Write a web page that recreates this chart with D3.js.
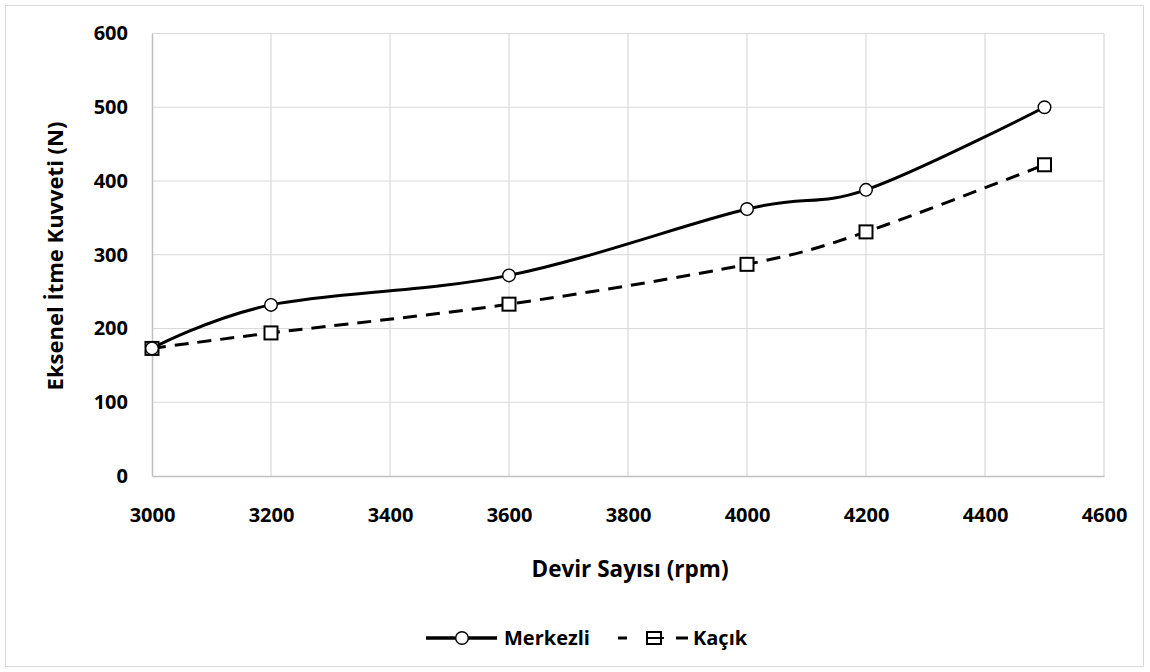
<!DOCTYPE html>
<html>
<head>
<meta charset="utf-8">
<script src="https://cdn.jsdelivr.net/npm/d3@7"></script>
<style>
  body { margin: 0; background: #fff; }
  svg { display: block; }
</style>
</head>
<body>
<svg id="chart" width="1150" height="672"></svg>
<script>
// chart data
var rpm = [3000, 3200, 3600, 4000, 4200, 4500];
var merkezli = [173, 232, 272, 362, 388, 500];
var kacik = [173, 194, 233, 287, 331, 422];
var xTicks = [3000, 3200, 3400, 3600, 3800, 4000, 4200, 4400, 4600];
var yTicks = [0, 100, 200, 300, 400, 500, 600];

var font = "'Open Sans', 'DejaVu Sans', sans-serif";
var svg = d3.select('#chart');

var pLeft = 152, pRight = 1104, pTop = 33.5, pBottom = 476;

// outer border
svg.append('rect')
   .attr('x', 5.5).attr('y', 5.5)
   .attr('width', 1138).attr('height', 661)
   .attr('fill', '#fff')
   .attr('stroke', '#d9d9d9')
   .attr('stroke-width', 1);

var xscale = d3.scaleLinear().domain([3000, 4600]).range([pLeft, pRight]);
var yscale = d3.scaleLinear().domain([0, 600]).range([pBottom, pTop]);

// gridlines
svg.append('g').selectAll('line')
   .data(xTicks.slice(1))
   .enter().append('line')
   .attr('x1', d => xscale(d)).attr('x2', d => xscale(d))
   .attr('y1', pTop).attr('y2', pBottom)
   .attr('stroke', '#d9d9d9').attr('stroke-width', 1.2);

svg.append('g').selectAll('line')
   .data(yTicks.slice(1))
   .enter().append('line')
   .attr('x1', pLeft).attr('x2', pRight)
   .attr('y1', d => yscale(d)).attr('y2', d => yscale(d))
   .attr('stroke', '#d9d9d9').attr('stroke-width', 1.2);

// axes
var xAxis = d3.axisBottom(xscale).tickValues(xTicks).tickFormat(d3.format('d'))
   .tickSize(0).tickPadding(32);
var gx = svg.append('g')
   .attr('transform', 'translate(0,' + pBottom + ')')
   .call(xAxis);
gx.select('.domain').attr('stroke', '#bfbfbf').attr('stroke-width', 1.5);

var yAxis = d3.axisLeft(yscale).tickValues(yTicks).tickFormat(d3.format('d'))
   .tickSize(0).tickPadding(24);
var gy = svg.append('g')
   .attr('transform', 'translate(' + pLeft + ',0)')
   .call(yAxis);
gy.select('.domain').attr('stroke', '#bfbfbf').attr('stroke-width', 1.5);

svg.selectAll('.tick text')
   .attr('font-family', font)
   .attr('font-size', '20px')
   .attr('font-weight', 'bold')
   .attr('fill', '#000');

// axis titles
svg.append('text')
   .attr('x', 630).attr('y', 577)
   .attr('text-anchor', 'middle')
   .attr('font-family', font).attr('font-size', '22.5px').attr('font-weight', 'bold')
   .text('Devir Sayısı (rpm)');

svg.append('text')
   .attr('transform', 'translate(62.5,256) rotate(-90)')
   .attr('text-anchor', 'middle')
   .attr('font-family', font).attr('font-size', '22px').attr('font-weight', 'bold')
   .text('Eksenel İtme Kuvveti (N)');

// lines
var line = d3.line()
   .x(d => xscale(d[0]))
   .y(d => yscale(d[1]))
   .curve(d3.curveCatmullRom.alpha(0));

var dataM = rpm.map((r, i) => [r, merkezli[i]]);
var dataK = rpm.map((r, i) => [r, kacik[i]]);

svg.append('path')
   .attr('d', line(dataK))
   .attr('fill', 'none')
   .attr('stroke', '#000')
   .attr('stroke-width', 3)
   .attr('stroke-dasharray', '14,9');

svg.append('path')
   .attr('d', line(dataM))
   .attr('fill', 'none')
   .attr('stroke', '#000')
   .attr('stroke-width', 3);

// markers
svg.append('g').selectAll('rect')
   .data(dataK)
   .enter().append('rect')
   .attr('x', d => xscale(d[0]) - 6.5)
   .attr('y', d => yscale(d[1]) - 6.5)
   .attr('width', 13).attr('height', 13)
   .attr('fill', '#fff')
   .attr('stroke', '#000').attr('stroke-width', 2);

svg.append('g').selectAll('circle')
   .data(dataM)
   .enter().append('circle')
   .attr('cx', d => xscale(d[0]))
   .attr('cy', d => yscale(d[1]))
   .attr('r', 6.3)
   .attr('fill', '#fff')
   .attr('stroke', '#000').attr('stroke-width', 1.4);

// legend
var ly = 638;
var lg = svg.append('g');
lg.append('line')
  .attr('x1', 426).attr('x2', 497).attr('y1', ly).attr('y2', ly)
  .attr('stroke', '#000').attr('stroke-width', 3.5);
lg.append('circle')
  .attr('cx', 462).attr('cy', ly).attr('r', 6.3)
  .attr('fill', '#fff').attr('stroke', '#000').attr('stroke-width', 1.4);
lg.append('text')
  .attr('x', 504).attr('y', 645)
  .attr('font-family', font).attr('font-size', '20px').attr('font-weight', 'bold')
  .text('Merkezli');

lg.append('line')
  .attr('x1', 618).attr('x2', 627).attr('y1', ly).attr('y2', ly)
  .attr('stroke', '#000').attr('stroke-width', 3);
lg.append('line')
  .attr('x1', 676).attr('x2', 688).attr('y1', ly).attr('y2', ly)
  .attr('stroke', '#000').attr('stroke-width', 3);
lg.append('rect')
  .attr('x', 647).attr('y', ly - 6).attr('width', 14).attr('height', 12)
  .attr('fill', '#fff').attr('stroke', '#000').attr('stroke-width', 2);
lg.append('line')
  .attr('x1', 647).attr('x2', 664).attr('y1', ly).attr('y2', ly)
  .attr('stroke', '#000').attr('stroke-width', 2);
lg.append('text')
  .attr('x', 693).attr('y', 645)
  .attr('font-family', font).attr('font-size', '20px').attr('font-weight', 'bold')
  .text('Kaçık');
</script>
</body>
</html>
